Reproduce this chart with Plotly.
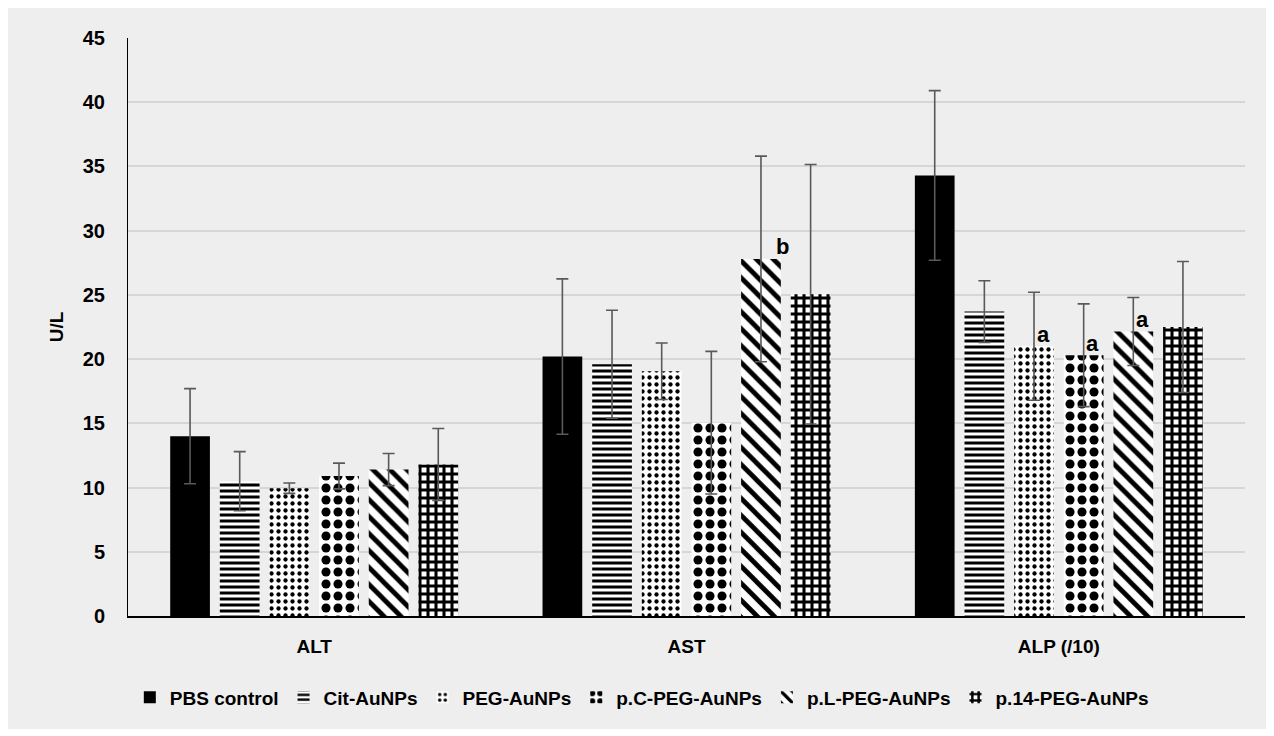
import plotly.graph_objects as go

categories = ["ALT", "AST", "ALP (/10)"]
series_names = ["PBS control", "Cit-AuNPs", "PEG-AuNPs", "p.C-PEG-AuNPs", "p.L-PEG-AuNPs", "p.14-PEG-AuNPs"]

pbs = [14.0, 20.2, 34.3]
cit = [10.5, 19.6, 23.7]
peg = [9.95, 19.05, 21.0]
pc = [10.9, 15.05, 20.3]
pl = [11.4, 27.8, 22.15]
p14 = [11.8, 25.05, 22.5]

pbs_err = [3.7, 6.05, 6.6]
cit_err = [2.3, 4.2, 2.4]
peg_err = [0.4, 2.2, 4.2]
pc_err = [1.0, 5.55, 4.0]
pl_err = [1.25, 8.0, 2.65]
p14_err = [2.8, 10.1, 5.1]

values = [pbs, cit, peg, pc, pl, p14]
errors = [pbs_err, cit_err, peg_err, pc_err, pl_err, p14_err]

# significance letters: (category, series index, label)
sig_cat = ["AST", "ALP (/10)", "ALP (/10)", "ALP (/10)"]
sig_series = [4, 2, 3, 4]
sig_text = ["b", "a", "a", "a"]

patterns = [
    dict(shape=""),
    dict(shape="-", size=6, solidity=0.5),
    dict(shape=".", size=7, solidity=0.3),
    dict(shape=".", size=12, solidity=0.45),
    dict(shape="\\", size=12, solidity=0.4),
    dict(shape="+", size=8, solidity=0.62),
]

fig = go.Figure()
for i, name in enumerate(series_names):
    pat = dict(patterns[i])
    if pat["shape"]:
        pat.update(fgcolor="black", bgcolor="white", fillmode="replace")
        color = "white"
    else:
        color = "black"
    fig.add_trace(go.Bar(
        name=name, x=categories, y=values[i],
        marker=dict(color=color, line=dict(width=0), pattern=pat),
        error_y=dict(type="data", array=errors[i], color="#595959", thickness=1.6, width=6),
    ))

n = len(series_names)
for cat, si, t in zip(sig_cat, sig_series, sig_text):
    ci = categories.index(cat)
    val = values[si][ci]
    offset = -0.4 + 0.8 / n * (si + 0.5)
    fig.add_annotation(x=ci + offset, y=val, text=t, showarrow=False,
                       xshift=9 if t == "a" else 22, yshift=12,
                       font=dict(family="Liberation Sans", size=22, color="black", weight="bold"),
                       xref="x", yref="y")

fig.add_shape(type="rect", xref="paper", yref="paper",
              x0=-0.1074, x1=1.0188, y0=-0.1955, y1=1.0519,
              fillcolor="#eeeeee", line=dict(width=0), layer="below")

fig.update_layout(
    width=1274, height=736,
    margin=dict(l=120, r=37, t=30, b=128),
    paper_bgcolor="white", plot_bgcolor="rgba(0,0,0,0)",
    barmode="group", bargap=0.2, bargroupgap=0.2,
    font=dict(family="Liberation Sans", color="black"),
    legend=dict(orientation="h", x=0.46, xanchor="center", y=-0.108, yanchor="top",
                font=dict(family="Liberation Sans", size=19, weight="bold"),
                bgcolor="rgba(0,0,0,0)", traceorder="normal"),
    yaxis=dict(range=[0, 45], dtick=5, showgrid=True, gridcolor="#d6d6d6", gridwidth=1.5,
               showline=True, linecolor="black", linewidth=1, zeroline=False,
               ticks="", ticklabelstandoff=18,
               tickfont=dict(size=20, weight="bold"),
               title=dict(text="U/L", font=dict(size=19, weight="bold"), standoff=14)),
    xaxis=dict(showline=True, linecolor="black", linewidth=1.5, ticks="",
               ticklabelstandoff=12,
               tickfont=dict(family="Liberation Sans", size=19, weight="bold"),
               range=[-0.5, 2.5]),
)
fig.update_xaxes(type="category")
fig.write_html("out.html")
